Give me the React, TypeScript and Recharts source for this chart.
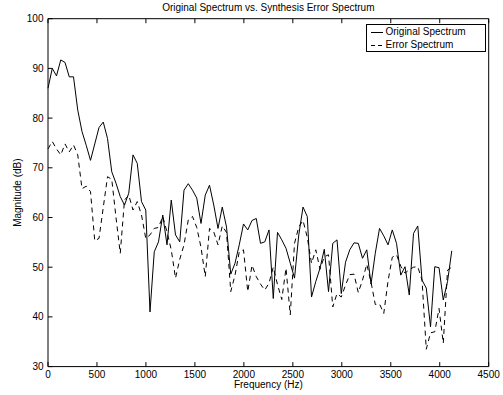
import React from 'react';
import { LineChart, Line, XAxis, YAxis } from 'recharts';

const FONT = '"Liberation Sans", Arial, Helvetica, sans-serif';

// Frequency bin spacing (Hz) of the spectrum samples
const FREQ_STEP_HZ = 43.4;

const originalDb = [
  86.0, 90.0, 88.5, 91.7, 91.2, 88.3, 88.3, 81.6, 77.3, 74.5,
  71.5, 74.8, 78.1, 79.2, 75.9, 69.2, 66.9, 64.2, 62.5, 64.9,
  72.6, 70.9, 63.2, 61.5, 41.0, 53.1, 55.1, 60.5, 54.5, 63.5,
  56.5, 55.1, 65.5, 66.8, 65.5, 63.9, 58.8, 64.5, 66.5, 62.5,
  57.8, 62.1, 58.1, 48.6, 50.8, 54.5, 58.7, 57.5, 59.4, 59.8,
  54.8, 55.1, 57.5, 43.7, 57.0, 55.5, 53.8, 50.8, 47.8, 56.5,
  62.1, 60.2, 44.0, 47.1, 49.8, 53.6, 45.1, 54.8, 55.5, 44.7,
  51.0, 53.5, 54.9, 54.8, 51.8, 53.5, 46.6, 52.8, 57.8, 56.3,
  54.5, 57.5, 54.8, 48.4, 50.1, 44.4, 56.8, 58.3, 47.4, 45.8,
  38.0, 50.1, 49.9, 43.4, 47.1, 53.3,
];

const errorDb = [
  73.8, 75.3, 73.8, 72.6, 74.8, 73.2, 74.6, 72.6, 65.8, 66.3,
  65.2, 55.3, 55.8, 62.0, 68.2, 67.7, 60.0, 52.8, 63.5, 64.5,
  61.5, 63.2, 60.5, 55.8, 56.5, 57.8, 58.0, 60.2, 57.1, 53.5,
  47.8, 51.6, 54.5, 59.5, 60.2, 58.0, 54.0, 48.1, 57.8, 57.1,
  54.5, 58.3, 57.0, 45.1, 48.4, 53.1, 53.5, 45.1, 50.4, 48.1,
  46.6, 45.4, 46.8, 50.0, 46.5, 43.5, 49.8, 40.4, 54.8, 58.1,
  59.4, 56.0, 50.8, 53.5, 49.6, 52.1, 52.5, 42.0, 44.7, 44.0,
  46.4, 48.5, 48.6, 44.9, 47.4, 50.6, 47.0, 42.5, 42.6, 40.7,
  47.2, 52.0, 52.5, 50.2, 48.8, 49.5, 50.0, 50.1, 47.4, 33.5,
  36.8, 37.0, 41.7, 34.7, 49.4, 50.0,
];

const xTicks = [0, 500, 1000, 1500, 2000, 2500, 3000, 3500, 4000, 4500];
const yTicks = [30, 40, 50, 60, 70, 80, 90, 100];

const TITLE = 'Original Spectrum vs. Synthesis Error Spectrum';
const X_LABEL = 'Frequency (Hz)';
const Y_LABEL = 'Magnitude (dB)';
const SERIES_NAMES = ['Original Spectrum', 'Error Spectrum'];

const data = originalDb.map((v, i) => ({
  freq: i * FREQ_STEP_HZ,
  original: v,
  error: errorDb[i],
}));

const EmptyTick = () => <g />;

const XLabel = (props: any) => {
  const vb = props.viewBox || {};
  return (
    <text x={vb.x + vb.width / 2} y={vb.y + 21} textAnchor="middle" fontSize={10} fill="#000" fontFamily={FONT}>
      {X_LABEL}
    </text>
  );
};

const TitleLabel = (props: any) => {
  const vb = props.viewBox || {};
  return (
    <text x={vb.x + vb.width / 2} y={vb.y + vb.height - 7.7} textAnchor="middle" fontSize={10} fill="#000" fontFamily={FONT}>
      {TITLE}
    </text>
  );
};

const YLabel = (props: any) => {
  const vb = props.viewBox || {};
  const cy = vb.y + vb.height / 2;
  return (
    <text
      transform={`translate(21, ${cy}) rotate(-90)`}
      textAnchor="middle"
      fontSize={10}
      fill="#000"
      fontFamily={FONT}
    >
      {Y_LABEL}
    </text>
  );
};

const tickStyle = { fontSize: 10, fill: '#000', fontFamily: FONT };
const lineStyle = { stroke: '#000', strokeWidth: 1 };

export default function App() {
  return (
    <div style={{ position: 'absolute', left: 0, top: 0, width: 503, height: 395, background: '#fff', fontFamily: FONT }}>
      <LineChart width={503} height={395} data={data} margin={{ top: 0, right: 0, bottom: 0, left: 0 }}>
        <XAxis
          xAxisId="b"
          dataKey="freq"
          type="number"
          domain={[0, 4500]}
          ticks={xTicks}
          interval={0}
          height={28.4}
          tickSize={-4.5}
          tickMargin={8.5}
          tick={tickStyle}
          axisLine={lineStyle}
          tickLine={lineStyle}
          label={<XLabel />}
        />
        <XAxis
          xAxisId="t"
          orientation="top"
          dataKey="freq"
          type="number"
          domain={[0, 4500]}
          ticks={xTicks}
          interval={0}
          height={18.7}
          tickSize={-4.5}
          tick={<EmptyTick />}
          axisLine={lineStyle}
          tickLine={lineStyle}
          label={<TitleLabel />}
        />
        <YAxis
          yAxisId="l"
          type="number"
          domain={[30, 100]}
          ticks={yTicks}
          interval={0}
          width={48}
          tickSize={-4.5}
          tickMargin={9}
          tick={tickStyle}
          axisLine={lineStyle}
          tickLine={lineStyle}
          label={<YLabel />}
        />
        <YAxis
          yAxisId="r"
          orientation="right"
          type="number"
          domain={[30, 100]}
          ticks={yTicks}
          interval={0}
          width={14.3}
          tickSize={-4.5}
          tick={<EmptyTick />}
          axisLine={lineStyle}
          tickLine={lineStyle}
        />
        <Line
          xAxisId="b"
          yAxisId="l"
          type="linear"
          dataKey="original"
          name={SERIES_NAMES[0]}
          stroke="#000"
          strokeWidth={1}
          dot={false}
          isAnimationActive={false}
        />
        <Line
          xAxisId="b"
          yAxisId="l"
          type="linear"
          dataKey="error"
          name={SERIES_NAMES[1]}
          stroke="#000"
          strokeWidth={1}
          strokeDasharray="5 4"
          dot={false}
          isAnimationActive={false}
        />
      </LineChart>
      <div
        style={{
          position: 'absolute',
          left: 365.5,
          top: 23.5,
          width: 120,
          height: 28,
          border: '1px solid #000',
          background: '#fff',
          boxSizing: 'border-box',
          fontSize: 10,
          fontFamily: FONT,
          color: '#000',
        }}
      >
        <svg width={20} height={28} style={{ position: 'absolute', left: 0, top: 0 }}>
          <line x1={4} x2={16} y1={7.5} y2={7.5} stroke="#000" strokeWidth={1} />
          <line x1={4} x2={16} y1={20.5} y2={20.5} stroke="#000" strokeWidth={1} strokeDasharray="4 3" />
        </svg>
        <div style={{ position: 'absolute', left: 19, top: 1.5, lineHeight: '12px', whiteSpace: 'nowrap' }}>{SERIES_NAMES[0]}</div>
        <div style={{ position: 'absolute', left: 19, top: 14.5, lineHeight: '12px', whiteSpace: 'nowrap' }}>{SERIES_NAMES[1]}</div>
      </div>
    </div>
  );
}
